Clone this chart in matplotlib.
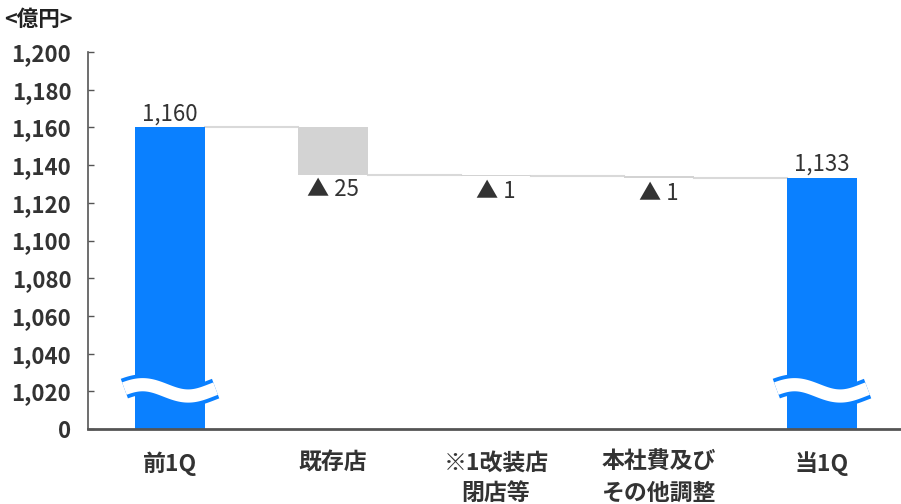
import numpy as np
import matplotlib
matplotlib.use("Agg")
import matplotlib.pyplot as plt

plt.rcParams['font.family'] = ['Noto Sans CJK JP', 'DejaVu Sans']

# data
categories = ["前1Q", "既存店", "※1改装店\n閉店等", "本社費及び\nその他調整", "当1Q"]
start_value = 1160
changes = [-25, -1, -1]
end_value = 1133
change_labels = ["▲ 25", "▲ 1", "▲ 1"]
y_ticks = list(range(1000, 1201, 20))
y_tick_labels = ["0"] + [f"{v:,}" for v in y_ticks[1:]]

BLUE = "#0a80ff"
GRAY = "#d3d3d3"
TEXT = "#333333"
AXIS = "#555555"

fig = plt.figure(figsize=(9.01, 5.04), dpi=100)
ax = fig.add_axes([88 / 901, 75 / 504, 813 / 901, 377 / 504])

x = np.arange(len(categories))
width = 0.43
base = 1000

# start and end bars
ax.bar(x[0], start_value - base, bottom=base, width=width, color=BLUE, zorder=1)
ax.bar(x[-1], end_value - base, bottom=base, width=width, color=BLUE, zorder=1)

# waterfall steps
level = start_value
prev_right = x[0] + width / 2
for i, ch in enumerate(changes):
    xi = x[i + 1]
    new_level = level + ch
    ax.bar(xi, abs(ch), bottom=min(level, new_level), width=width, color=GRAY, zorder=1)
    ax.plot([prev_right, xi - width / 2], [level, level], color="#d9d9d9", lw=1.5, zorder=0.5)
    ax.text(xi, new_level - 1.8, change_labels[i], ha="center", va="top",
            fontsize=16, color=TEXT)
    prev_right = xi + width / 2
    level = new_level
ax.plot([prev_right, x[-1] - width / 2], [level, level], color="#d9d9d9", lw=1.5, zorder=0.5)

# value labels
ax.text(x[0], start_value + 1.2, f"{start_value:,}", ha="center", va="bottom", fontsize=16, color=TEXT)
ax.text(x[-1], end_value + 1.2, f"{end_value:,}", ha="center", va="bottom", fontsize=16, color=TEXT)

# axis break waves
t = np.linspace(0, 1, 100)
for xi in (x[0], x[-1]):
    wx = xi - 0.28 + 0.56 * t
    wy = 1020.5 + 3.0 * np.cos(2 * np.pi * (t - 0.2))
    ax.plot(wx, wy, color=BLUE, lw=15, solid_capstyle="butt", zorder=1.2)
    ax.plot(wx, wy, color="white", lw=9.5, solid_capstyle="butt", zorder=1.3)

ax.set_xlim(-0.503, 4.485)
ax.set_ylim(1000, 1200)
ax.set_yticks(y_ticks)
ax.set_yticklabels(y_tick_labels, fontsize=16, fontweight="bold", color=TEXT)
ax.set_xticks(x)
ax.set_xticklabels(categories, fontsize=16.5, fontweight="bold", color=TEXT, linespacing=1.45)
ax.tick_params(axis="x", length=0, pad=16)
ax.tick_params(axis="y", direction="in", length=4, width=1, color=AXIS, pad=12)

for s in ("top", "right"):
    ax.spines[s].set_visible(False)
ax.spines["left"].set_color(AXIS)
ax.spines["left"].set_linewidth(1.2)
ax.spines["bottom"].set_color(AXIS)
ax.spines["bottom"].set_linewidth(2)
ax.spines["bottom"].set_zorder(3)

fig.text(4 / 901, 1 - 19 / 504, "<億円>", fontsize=15.5, fontweight="bold", color="#222222", va="center")

fig.savefig("out.png", dpi=100)
